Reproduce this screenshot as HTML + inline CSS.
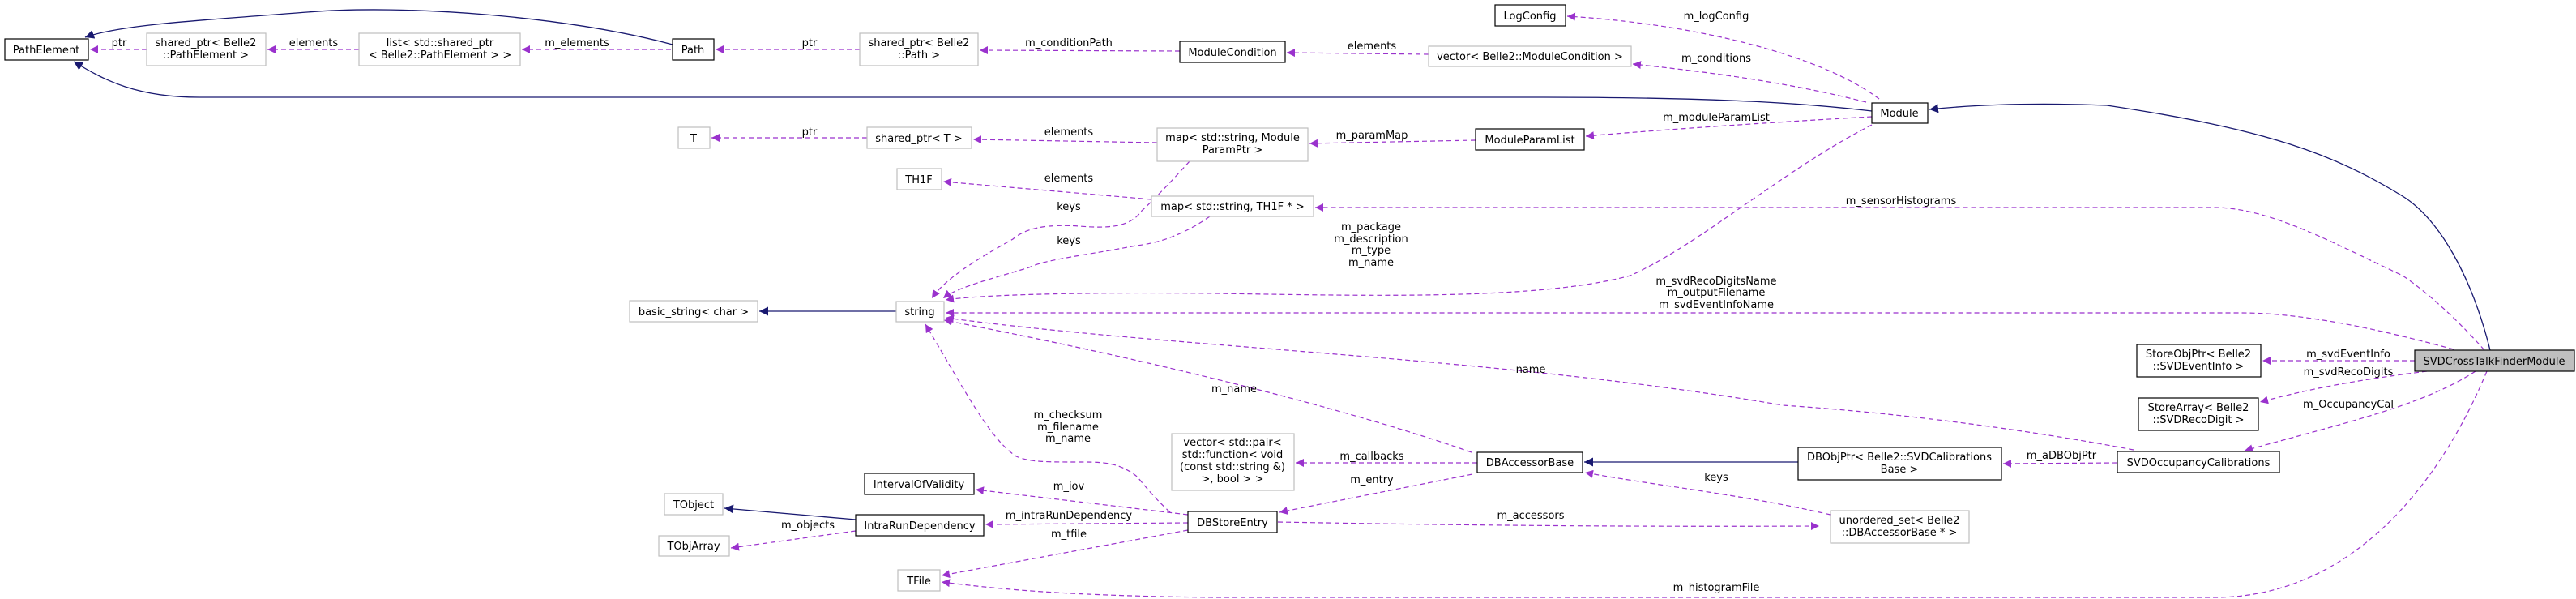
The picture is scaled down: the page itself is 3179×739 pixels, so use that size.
<!DOCTYPE html>
<html><head><meta charset="utf-8"><style>
html,body{margin:0;padding:0;background:#fff;}
svg{display:block;}
text{font-family:"DejaVu Sans","Liberation Sans",sans-serif;font-size:13px;fill:#000;}
.n{fill:#fff;stroke:#000;stroke-width:1.2;}
.g{fill:#fff;stroke:#bfbfbf;stroke-width:1.2;}
.d{fill:none;stroke:#9a32cd;stroke-width:1.2;stroke-dasharray:6,4;}
.i{fill:none;stroke:#191970;stroke-width:1.3;}
</style></head><body>
<svg width="3179" height="739" viewBox="0 0 3179 739" xmlns="http://www.w3.org/2000/svg">
<defs>
<marker id="ap" viewBox="0 0 10 10" refX="10" refY="5" markerWidth="10" markerHeight="10" markerUnits="userSpaceOnUse" orient="auto"><path d="M0,0 L10,5 L0,10 z" fill="#9a32cd"/></marker>
<marker id="ab" viewBox="0 0 10 10" refX="10" refY="5" markerWidth="11" markerHeight="11" markerUnits="userSpaceOnUse" orient="auto"><path d="M0,0 L10,5 L0,10 z" fill="#191970"/></marker>
</defs>

<!-- inheritance edges -->
<path class="i" d="M830,55 C700,20 500,5 379,15 C250,25 150,30 105,46" marker-end="url(#ab)"/>
<path class="i" d="M2310,137 C2250,130 2150,120 1900,120 L246,120 C170,120 130,100 91,76" marker-end="url(#ab)"/>
<path class="i" d="M3073,432 C3050,340 3010,270 2965,242 C2880,190 2800,160 2600,130 C2500,126 2430,130 2381,135" marker-end="url(#ab)"/>
<path class="i" d="M1106,384 L937,384" marker-end="url(#ab)"/>
<path class="i" d="M1056,641 L894,627" marker-end="url(#ab)"/>
<path class="i" d="M2219,570 L1955,570" marker-end="url(#ab)"/>

<!-- dashed edges -->
<path class="d" d="M181,61 L111,61" marker-end="url(#ap)"/>
<path class="d" d="M443,61 L330,61" marker-end="url(#ap)"/>
<path class="d" d="M828,61 L644,61" marker-end="url(#ap)"/>
<path class="d" d="M1061,61 L883,61" marker-end="url(#ap)"/>
<path class="d" d="M1456,63 L1209,62" marker-end="url(#ap)"/>
<path class="d" d="M1763,67 L1588,65" marker-end="url(#ap)"/>
<path class="d" d="M2319,122 C2250,70 2100,30 1934,20" marker-end="url(#ap)"/>
<path class="d" d="M2303,126 C2200,100 2100,88 2015,79" marker-end="url(#ap)"/>
<path class="d" d="M2310,144 C2200,150 2050,160 1957,168" marker-end="url(#ap)"/>
<path class="d" d="M1821,173 L1616,177" marker-end="url(#ap)"/>
<path class="d" d="M1428,176 L1201,172" marker-end="url(#ap)"/>
<path class="d" d="M1070,170 L878,170" marker-end="url(#ap)"/>
<path class="d" d="M1421,246 L1164,224" marker-end="url(#ap)"/>
<path class="d" d="M1468,199 C1440,230 1420,250 1409,260 C1395,280 1370,282 1332,279 C1290,276 1265,282 1250,295 C1205,320 1165,345 1150,368" marker-end="url(#ap)"/>
<path class="d" d="M1493,267 C1460,290 1430,300 1402,303 C1340,315 1290,320 1270,330 C1220,345 1180,355 1164,368" marker-end="url(#ap)"/>
<path class="d" d="M2310,154 C2200,210 2100,300 2012,340 C1900,370 1700,365 1500,362 C1300,360 1200,365 1167,370" marker-end="url(#ap)"/>
<path class="d" d="M3066,432 C3020,380 2980,350 2965,340 C2880,300 2800,256 2733,256 L1623,256" marker-end="url(#ap)"/>
<path class="d" d="M3028,431 C2950,410 2850,386 2765,386 L1167,386" marker-end="url(#ap)"/>
<path class="d" d="M2633,555 C2500,530 2350,510 2200,500 C1850,440 1450,430 1167,392" marker-end="url(#ap)"/>
<path class="d" d="M1816,558 C1650,500 1400,440 1165,395" marker-end="url(#ap)"/>
<path class="d" d="M1444,632 C1420,610 1410,595 1402,587 C1380,570 1360,570 1332,570 C1290,570 1270,570 1254,563 C1220,540 1190,480 1142,400" marker-end="url(#ap)"/>
<path class="d" d="M1823,571 L1599,571" marker-end="url(#ap)"/>
<path class="d" d="M1817,585 L1579,632" marker-end="url(#ap)"/>
<path class="d" d="M1466,635 L1204,604" marker-end="url(#ap)"/>
<path class="d" d="M1466,645 L1216,647" marker-end="url(#ap)"/>
<path class="d" d="M1466,654 L1162,710" marker-end="url(#ap)"/>
<path class="d" d="M1056,655 L902,676" marker-end="url(#ap)"/>
<path class="d" d="M1577,644 C1800,648 2000,650 2245,649" marker-end="url(#ap)"/>
<path class="d" d="M2259,635 C2150,610 2050,600 1956,583" marker-end="url(#ap)"/>
<path class="d" d="M2613,571 L2472,572" marker-end="url(#ap)"/>
<path class="d" d="M2980,445 L2792,445" marker-end="url(#ap)"/>
<path class="d" d="M2995,458 C2900,470 2850,480 2789,496" marker-end="url(#ap)"/>
<path class="d" d="M3055,458 C2990,500 2900,520 2770,556" marker-end="url(#ap)"/>
<path class="d" d="M3069,458 C3010,600 2900,737 2733,737 L1500,737 C1300,735 1220,725 1162,718" marker-end="url(#ap)"/>

<!-- nodes -->
<rect class="n" x="6" y="48" width="103" height="26"/><text x="57" y="66" text-anchor="middle">PathElement</text>
<rect class="g" x="181" y="41" width="147" height="40"/><text x="254" y="57" text-anchor="middle">shared_ptr&lt; Belle2</text><text x="254" y="72" text-anchor="middle">::PathElement &gt;</text>
<rect class="g" x="443" y="41" width="199" height="40"/><text x="543" y="57" text-anchor="middle">list&lt; std::shared_ptr</text><text x="543" y="72" text-anchor="middle">&lt; Belle2::PathElement &gt; &gt;</text>
<rect class="n" x="830" y="48" width="51" height="26"/><text x="855" y="66" text-anchor="middle">Path</text>
<rect class="g" x="1061" y="41" width="146" height="40"/><text x="1134" y="57" text-anchor="middle">shared_ptr&lt; Belle2</text><text x="1134" y="72" text-anchor="middle">::Path &gt;</text>
<rect class="n" x="1456" y="51" width="130" height="26"/><text x="1521" y="69" text-anchor="middle">ModuleCondition</text>
<rect class="n" x="1845" y="6" width="87" height="26"/><text x="1888" y="24" text-anchor="middle">LogConfig</text>
<rect class="g" x="1763" y="57" width="250" height="25"/><text x="1888" y="74" text-anchor="middle">vector&lt; Belle2::ModuleCondition &gt;</text>
<rect class="n" x="2310" y="127" width="69" height="25"/><text x="2344" y="144" text-anchor="middle">Module</text>
<rect class="g" x="837" y="157" width="39" height="26"/><text x="856" y="175" text-anchor="middle">T</text>
<rect class="g" x="1070" y="157" width="129" height="26"/><text x="1134" y="175" text-anchor="middle">shared_ptr&lt; T &gt;</text>
<rect class="g" x="1428" y="158" width="186" height="41"/><text x="1521" y="174" text-anchor="middle">map&lt; std::string, Module</text><text x="1521" y="189" text-anchor="middle">ParamPtr &gt;</text>
<rect class="n" x="1821" y="159" width="134" height="26"/><text x="1888" y="177" text-anchor="middle">ModuleParamList</text>
<rect class="g" x="1107" y="208" width="55" height="26"/><text x="1134" y="226" text-anchor="middle">TH1F</text>
<rect class="g" x="1421" y="242" width="200" height="25"/><text x="1521" y="259" text-anchor="middle">map&lt; std::string, TH1F * &gt;</text>
<rect class="g" x="777" y="371" width="158" height="26"/><text x="856" y="389" text-anchor="middle">basic_string&lt; char &gt;</text>
<rect class="g" x="1106" y="372" width="59" height="25"/><text x="1135" y="389" text-anchor="middle">string</text>
<rect class="g" x="1446" y="535" width="151" height="70"/>
<text x="1521" y="550" text-anchor="middle">vector&lt; std::pair&lt;</text><text x="1521" y="565" text-anchor="middle">std::function&lt; void</text><text x="1521" y="580" text-anchor="middle">(const std::string &amp;)</text><text x="1521" y="595" text-anchor="middle">&gt;, bool &gt; &gt;</text>
<rect class="n" x="1823" y="558" width="130" height="25"/><text x="1888" y="575" text-anchor="middle">DBAccessorBase</text>
<rect class="n" x="1067" y="584" width="135" height="26"/><text x="1134" y="602" text-anchor="middle">IntervalOfValidity</text>
<rect class="g" x="820" y="609" width="72" height="26"/><text x="856" y="627" text-anchor="middle">TObject</text>
<rect class="n" x="1056" y="635" width="158" height="26"/><text x="1135" y="653" text-anchor="middle">IntraRunDependency</text>
<rect class="n" x="1466" y="631" width="110" height="26"/><text x="1521" y="649" text-anchor="middle">DBStoreEntry</text>
<rect class="g" x="813" y="661" width="87" height="25"/><text x="856" y="678" text-anchor="middle">TObjArray</text>
<rect class="g" x="1108" y="703" width="52" height="26"/><text x="1134" y="721" text-anchor="middle">TFile</text>
<rect class="n" x="2219" y="552" width="251" height="40"/><text x="2344" y="568" text-anchor="middle">DBObjPtr&lt; Belle2::SVDCalibrations</text><text x="2344" y="583" text-anchor="middle">Base &gt;</text>
<rect class="g" x="2259" y="630" width="171" height="40"/><text x="2344" y="646" text-anchor="middle">unordered_set&lt; Belle2</text><text x="2344" y="661" text-anchor="middle">::DBAccessorBase * &gt;</text>
<rect class="n" x="2637" y="425" width="153" height="40"/><text x="2713" y="441" text-anchor="middle">StoreObjPtr&lt; Belle2</text><text x="2713" y="456" text-anchor="middle">::SVDEventInfo &gt;</text>
<rect class="n" x="2639" y="491" width="148" height="40"/><text x="2713" y="507" text-anchor="middle">StoreArray&lt; Belle2</text><text x="2713" y="522" text-anchor="middle">::SVDRecoDigit &gt;</text>
<rect class="n" x="2613" y="557" width="200" height="26"/><text x="2713" y="575" text-anchor="middle">SVDOccupancyCalibrations</text>
<rect x="2980" y="432" width="197" height="26" fill="#bfbfbf" stroke="#000" stroke-width="1.2"/><text x="3078" y="450" text-anchor="middle">SVDCrossTalkFinderModule</text>

<!-- edge labels -->
<g text-anchor="middle">
<text x="147" y="57">ptr</text>
<text x="387" y="57">elements</text>
<text x="712" y="57">m_elements</text>
<text x="999" y="57">ptr</text>
<text x="1319" y="57">m_conditionPath</text>
<text x="1693" y="61">elements</text>
<text x="2118" y="24">m_logConfig</text>
<text x="2118" y="76">m_conditions</text>
<text x="2118" y="149">m_moduleParamList</text>
<text x="999" y="167">ptr</text>
<text x="1319" y="167">elements</text>
<text x="1693" y="171">m_paramMap</text>
<text x="1319" y="224">elements</text>
<text x="1319" y="259">keys</text>
<text x="1319" y="301">keys</text>
<text x="1692" y="284">m_package</text>
<text x="1692" y="299">m_description</text>
<text x="1692" y="313">m_type</text>
<text x="1692" y="328">m_name</text>
<text x="2346" y="252">m_sensorHistograms</text>
<text x="2118" y="351">m_svdRecoDigitsName</text>
<text x="2118" y="365">m_outputFilename</text>
<text x="2118" y="380">m_svdEventInfoName</text>
<text x="1889" y="460">name</text>
<text x="1523" y="484">m_name</text>
<text x="1318" y="516">m_checksum</text>
<text x="1318" y="531">m_filename</text>
<text x="1318" y="545">m_name</text>
<text x="1693" y="567">m_callbacks</text>
<text x="1693" y="596">m_entry</text>
<text x="1319" y="604">m_iov</text>
<text x="1319" y="640">m_intraRunDependency</text>
<text x="1319" y="663">m_tfile</text>
<text x="997" y="652">m_objects</text>
<text x="1889" y="640">m_accessors</text>
<text x="2118" y="593">keys</text>
<text x="2118" y="729">m_histogramFile</text>
<text x="2898" y="441">m_svdEventInfo</text>
<text x="2898" y="463">m_svdRecoDigits</text>
<text x="2898" y="503">m_OccupancyCal</text>
<text x="2544" y="566">m_aDBObjPtr</text>
</g>
</svg>
</body></html>
